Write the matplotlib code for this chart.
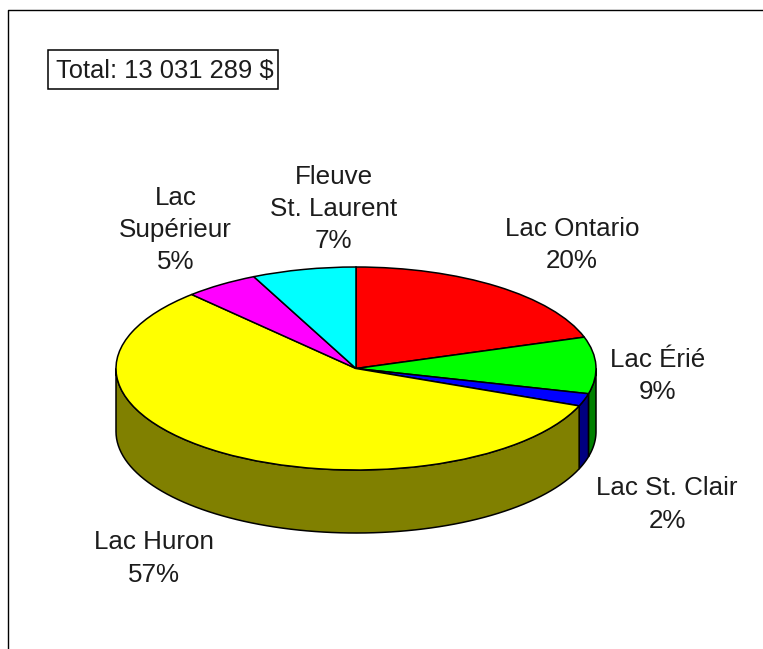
import numpy as np
import matplotlib
matplotlib.use("Agg")
import matplotlib.pyplot as plt
from matplotlib.lines import Line2D
from matplotlib.patches import Rectangle

W, H = 763, 649
plt.rcParams['font.family'] = ['Liberation Sans', 'DejaVu Sans']

names = ["Lac Ontario", "Lac Érié", "Lac St. Clair", "Lac Huron", "Lac\nSupérieur", "Fleuve\nSt. Laurent"]
shares = [20, 9, 2, 57, 5, 7]
top_colors = ["#ff0000", "#00ff00", "#0000ff", "#ffff00", "#ff00ff", "#00ffff"]
rim_colors = ["#800000", "#008000", "#000080", "#808000", "#800080", "#008080"]
total_text = "Total: 13 031 289 $"

# Layout in reference pixels
CX, CY, RX, RY, DEPTH = 356, 368.5, 240, 101.5, 63
label_px = [(572, 245), (658, 376), (667, 504.5), (154, 558.5), (175.5, 230), (333.5, 209)]
FS = 18.7
TEXT_COLOR = "#1c1c1c"

fig = plt.figure(figsize=(W / 100, H / 100), dpi=100, facecolor="white")
ax = fig.add_axes([0, 0, 1, 1])

# Pie in unit coordinates; the axes limits squash the circle into the ellipse
wedges, _ = ax.pie(shares, colors=top_colors, startangle=90, counterclock=False, radius=1,
                   wedgeprops=dict(edgecolor="black", linewidth=1.1))
for w in wedges:
    w.set_zorder(3)
ax.set_aspect("auto")
ax.set_xlim(-CX / RX, (W - CX) / RX)
ax.set_ylim(-(H - CY) / RY, CY / RY)
ax.set_frame_on(False)

# Side wall: the part of each slice's outer edge that lies on the front half
d = DEPTH / RY
edges = np.cumsum([0] + shares) / sum(shares) * 360.0  # clockwise from the top
for a0, a1, col in zip(edges[:-1], edges[1:], rim_colors):
    lo, hi = max(a0, 90), min(a1, 270)
    if hi <= lo:
        continue
    t = np.radians(np.linspace(lo, hi, 80))
    x, y = np.sin(t), np.cos(t)
    ax.fill(np.r_[x, x[::-1]], np.r_[y, y[::-1] - d], facecolor=col,
            edgecolor="black", linewidth=1.1, zorder=2)

# Labels
for name, share, (px, py) in zip(names, shares, label_px):
    fig.text(px / W, 1 - py / H, f"{name}\n{share}%", ha="center", va="center",
             fontsize=FS, linespacing=1.44, color=TEXT_COLOR)

# Total box
fig.add_artist(Rectangle((48 / W, 1 - 89 / H), 230 / W, 39 / H, transform=fig.transFigure,
                         facecolor="white", edgecolor="black", linewidth=1.1))
fig.text(165 / W, 1 - 70.5 / H, total_text, ha="center", va="center", fontsize=18.4, color=TEXT_COLOR)

# Window frame on the top and left
fig.add_artist(Line2D([8 / W, 8 / W, 1], [0, 1 - 9.5 / H, 1 - 9.5 / H],
                      transform=fig.transFigure, color="black", linewidth=1.0))

fig.savefig("out.png", dpi=100, facecolor="white")
